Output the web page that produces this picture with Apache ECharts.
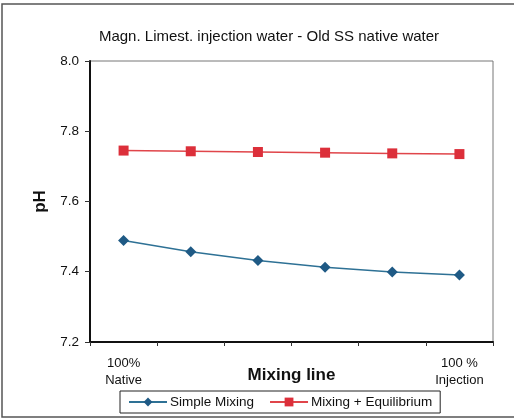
<!DOCTYPE html>
<html>
<head>
<meta charset="utf-8">
<script src="https://cdn.jsdelivr.net/npm/echarts@6/dist/echarts.min.js"></script>
<style>
  html, body { margin: 0; padding: 0; background: #fff; }
  #chart { width: 514px; height: 420px; }
</style>
</head>
<body>
<div id="chart"></div>
<script>
// Mixing steps from 100 % native water to 100 % injection water
const categories = ['100%\nNative', '', '', '', '', '100 %\nInjection'];
const simpleMixing = [7.489, 7.457, 7.432, 7.413, 7.399, 7.391];
const mixingEquilibrium = [7.745, 7.743, 7.741, 7.739, 7.737, 7.735];
const yTicks = [7.2, 7.4, 7.6, 7.8, 8.0];

const chart = echarts.init(document.getElementById('chart'), null, { renderer: 'canvas' });
const font = 'Liberation Sans, Arial, sans-serif';

chart.setOption({
  animation: false,
  backgroundColor: '#fff',
  title: {
    text: 'Magn. Limest. injection water - Old SS native water',
    left: 264, top: 24, textAlign: 'center',
    textStyle: { fontFamily: font, fontSize: 15, fontWeight: 'normal', color: '#111' }
  },
  grid: { left: 90, top: 61, width: 403, height: 281, show: true, borderColor: '#777', borderWidth: 1 },
  xAxis: {
    type: 'category',
    data: categories,
    boundaryGap: true,
    name: 'Mixing line',
    nameLocation: 'middle',
    nameGap: 25,
    nameMoveOverlap: false,
    nameTextStyle: { fontFamily: font, fontSize: 17, fontWeight: 'bold', color: '#111' },
    axisLine: { lineStyle: { color: '#111', width: 2 } },
    axisTick: { show: true, inside: false, length: 4, lineStyle: { color: '#333' } },
    axisLabel: { interval: 0, margin: 13, fontFamily: font, fontSize: 13, color: '#111', lineHeight: 17 }
  },
  yAxis: {
    type: 'value',
    min: yTicks[0], max: yTicks[yTicks.length - 1], interval: 0.2,
    name: 'pH',
    nameLocation: 'middle',
    nameGap: 41,
    nameMoveOverlap: false,
    nameTextStyle: { fontFamily: font, fontSize: 17, fontWeight: 'bold', color: '#111' },
    axisLine: { show: true, lineStyle: { color: '#111', width: 2 } },
    axisTick: { show: true, length: 5, lineStyle: { color: '#333' } },
    splitLine: { show: false },
    axisLabel: { margin: 11, fontFamily: font, fontSize: 13.5, color: '#111', formatter: v => v.toFixed(1) }
  },
  legend: {
    left: 120, top: 391,
    itemGap: 15,
    itemWidth: 38, itemHeight: 11,
    padding: [4, 8, 4, 8],
    borderColor: '#222', borderWidth: 1,
    textStyle: { fontFamily: font, fontSize: 13.5, color: '#111', padding: [0, 0, 0, -2] },
    data: ['Simple Mixing', 'Mixing + Equilibrium']
  },
  series: [
    {
      name: 'Simple Mixing', type: 'line', data: simpleMixing,
      symbol: 'diamond', symbolSize: 11,
      lineStyle: { color: '#2e7195', width: 1.5 },
      itemStyle: { color: '#1f5a85' }
    },
    {
      name: 'Mixing + Equilibrium', type: 'line', data: mixingEquilibrium,
      symbol: 'rect', symbolSize: 10,
      lineStyle: { color: '#e0454a', width: 1.5 },
      itemStyle: { color: '#dc2f3a' }
    }
  ],
  graphic: [
    { type: 'rect', shape: { x: 2, y: 4, width: 530, height: 413 }, style: { fill: 'none', stroke: '#555', lineWidth: 1.5 }, silent: true }
  ]
});
</script>
</body>
</html>
